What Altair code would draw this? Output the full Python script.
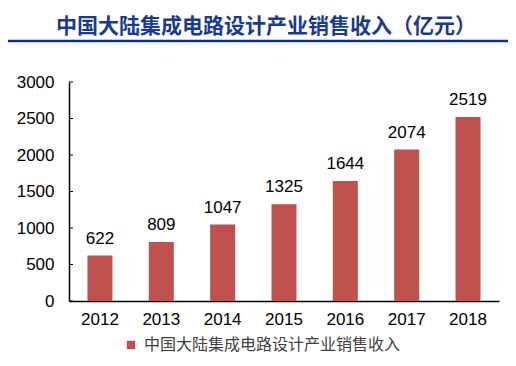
import altair as alt
import pandas as pd

years = ["2012", "2013", "2014", "2015", "2016", "2017", "2018"]
values = [622, 809, 1047, 1325, 1644, 2074, 2519]
series_name = "中国大陆集成电路设计产业销售收入"
title_text = "中国大陆集成电路设计产业销售收入（亿元）"
y_ticks = [0, 500, 1000, 1500, 2000, 2500, 3000]

df = pd.DataFrame({"year": years, "value": values, "series": [series_name] * len(years)})

W, H = 430, 219
base = alt.Chart(df)

x_axis = alt.Axis(labelAngle=0, labelFontSize=17, labelFont="Liberation Sans",
                  labelColor="black", domainColor="black", domainWidth=1.5,
                  ticks=False, labelPadding=10)
y_axis = alt.Axis(values=y_ticks, format="d", labelOverlap=False, grid=False,
                  labelFontSize=17, labelFont="Liberation Sans",
                  labelColor="black", domainColor="black", domainWidth=1.5,
                  ticks=False, labelPadding=15)
x_enc = alt.X("year:O", title=None, sort=years,
              scale=alt.Scale(paddingInner=0.59, paddingOuter=0.3), axis=x_axis)
y_enc = alt.Y("value:Q", title=None, scale=alt.Scale(domain=[0, 3000], nice=False), axis=y_axis)

bars = base.mark_bar(size=25).encode(
    x=x_enc,
    y=y_enc,
    color=alt.Color("series:N", scale=alt.Scale(range=["#C0504D"]),
                    legend=alt.Legend(orient="none", legendX=54, legendY=255, title=None,
                                      symbolType="square", symbolSize=70, symbolStrokeWidth=0,
                                      labelFontSize=16, labelFont="Noto Sans CJK SC",
                                      labelColor="#404040", padding=0, labelOffset=5,
                                      labelLimit=400)),
)

labels = base.mark_text(baseline="bottom", dy=-8, fontSize=17, font="Liberation Sans",
                        color="black").encode(
    x=x_enc,
    y=y_enc,
    text="value:Q",
)

tick_df = pd.DataFrame({"value": y_ticks})
yticks = alt.Chart(tick_df).mark_rule(color="black", strokeWidth=1).encode(
    y=alt.Y("value:Q", scale=alt.Scale(domain=[0, 3000], nice=False), axis=y_axis, title=None),
    x=alt.value(0), x2=alt.value(4))

tdf = pd.DataFrame({"t": [title_text]})
title = alt.Chart(tdf).mark_text(fontSize=21, font="Noto Sans CJK SC", fontWeight="bold",
                                 color="#1A3A8F", baseline="middle", align="center").encode(
    text="t:N", x=alt.value(197), y=alt.value(-55))
line = alt.Chart(tdf).mark_rule(color="#0A2F8F", strokeWidth=2.5).encode(
    x=alt.value(-69), x2=alt.value(447), y=alt.value(-41))

chart = alt.layer(bars, labels, yticks, title, line).properties(
    width=W, height=H,
    autosize=alt.AutoSizeParams(type="none"),
    padding={"left": 61, "top": 74, "right": 9, "bottom": 57},
).configure_view(stroke=None)

chart.save("out.html", embed_options={"renderer": "svg", "actions": False})
